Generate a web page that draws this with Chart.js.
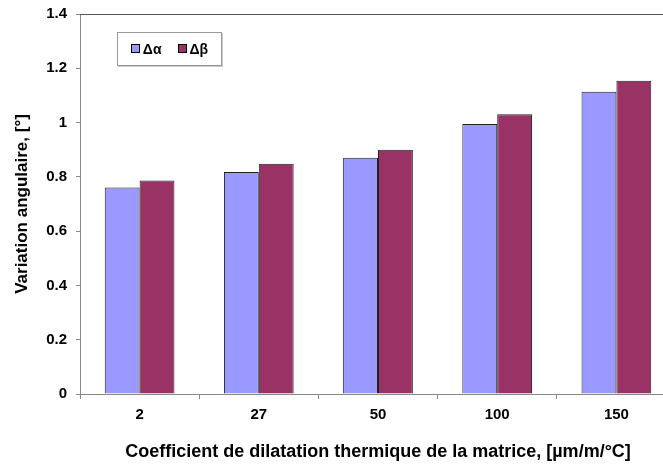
<!DOCTYPE html>
<html>
<head>
<meta charset="utf-8">
<script src="https://cdn.jsdelivr.net/npm/chart.js@4/dist/chart.umd.min.js"></script>
<style>
  html, body { margin: 0; padding: 0; background: #fff; overflow: hidden; }
  #wrap { position: relative; width: 676px; height: 465px; }
  #legend {
    position: absolute; left: 117px; top: 32px; width: 103px; height: 32px;
    border: 1px solid #999; box-shadow: 1px 1px 0 #ccc; background: #fff;
    font: bold 14px "Liberation Sans", Arial, sans-serif; color: #000;
    display: flex; align-items: center; justify-content: center; gap: 16px;
  }
  #legend span.sq { display: inline-block; width: 7px; height: 7px; border: 1px solid #000; margin-right: 3px; vertical-align: 1px; }
</style>
</head>
<body>
<div id="wrap">
  <canvas id="c" width="676" height="465"></canvas>
  <div id="legend"></div>
</div>
<script>
// categories: coefficient de dilatation de la matrice
var categories = ['2', '27', '50', '100', '150'];
var deltaAlpha = [0.761, 0.818, 0.870, 0.995, 1.114];
var deltaBeta  = [0.787, 0.848, 0.900, 1.031, 1.154];
var yTicks = [0, 0.2, 0.4, 0.6, 0.8, 1, 1.2, 1.4];

var colAlpha = '#9999FF';
var colBeta = '#993366';

var font = '"Liberation Sans", Arial, sans-serif';

// top border of the plot
var frame = {
  id: 'frame',
  afterDraw: function(chart) {
    var a = chart.chartArea, ctx = chart.ctx;
    ctx.save();
    ctx.strokeStyle = '#555';
    ctx.lineWidth = 1;
    ctx.beginPath();
    ctx.moveTo(a.left, a.top + 0.5);
    ctx.lineTo(a.right, a.top + 0.5);
    ctx.stroke();
    ctx.restore();
  }
};

var chart = new Chart(document.getElementById('c'), {
  type: 'bar',
  data: {
    labels: categories,
    datasets: [
      { label: '\u0394\u03b1', data: deltaAlpha, backgroundColor: colAlpha, borderColor: '#222', borderWidth: 1 },
      { label: '\u0394\u03b2', data: deltaBeta, backgroundColor: colBeta, borderColor: '#222', borderWidth: 1 }
    ]
  },
  options: {
    responsive: false,
    animation: false,
    layout: { padding: { top: 14, left: 0, right: 0, bottom: 0 } },
    categoryPercentage: 0.585,
    barPercentage: 1,
    plugins: { legend: { display: false }, tooltip: { enabled: false } },
    scales: {
      x: {
        grid: { offset: true, drawOnChartArea: false, tickLength: 5, color: '#888' },
        border: { color: '#888' },
        ticks: { font: { family: font, size: 15, weight: 'bold' }, color: '#000', padding: 7 },
        title: {
          display: true,
          text: 'Coefficient de dilatation thermique de la matrice, [\u00b5m/m/\u00b0C]',
          font: { family: font, size: 18, weight: 'bold' }, color: '#000',
          padding: { top: 0, bottom: 2 }
        },
        afterFit: function(s) { s.height = 71; }
      },
      y: {
        min: 0, max: 1.4,
        afterBuildTicks: function(s) { s.ticks = yTicks.map(function(v) { return { value: v }; }); },
        grid: { drawOnChartArea: false, tickLength: 4, color: '#888' },
        border: { color: '#888' },
        ticks: {
          font: { family: font, size: 15, weight: 'bold' }, color: '#000', padding: 9,
          callback: function(v) { return String(Math.round(v * 10) / 10); }
        },
        title: {
          display: true,
          text: 'Variation angulaire, [\u00b0]',
          font: { family: font, size: 17, weight: 'bold' }, color: '#000',
          padding: { top: 12, bottom: 0 }
        },
        afterFit: function(s) { s.width = 80; s.paddingTop = 0; s.paddingBottom = 0; }
      }
    }
  },
  plugins: [frame]
});

// legend box from the datasets
var lg = document.getElementById('legend');
chart.data.datasets.forEach(function(ds) {
  var item = document.createElement('div');
  item.innerHTML = '<span class="sq" style="background:' + ds.backgroundColor + '"></span>' + ds.label;
  lg.appendChild(item);
});
</script>
</body>
</html>
